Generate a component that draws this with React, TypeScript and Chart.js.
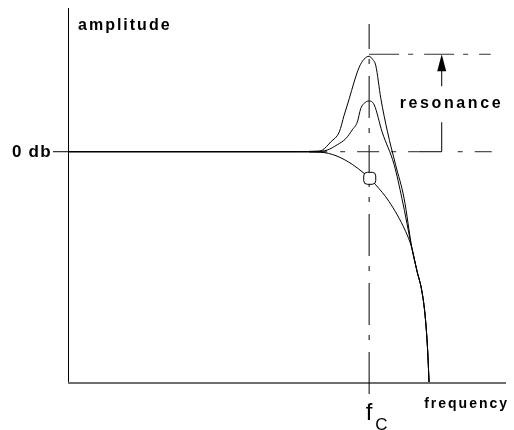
import React, { useEffect, useRef } from "react";
import { Chart, registerables } from "chart.js";

Chart.register(...registerables);

// Normalised frequency (cut-off frequency fc = 1) and amplitude in dB
const freqMin = 0;
const freqMax = 1.4545;
const dbMin = -23.15;
const dbMax = 14.45;
const fcFreq = 1.0;

// Highest resonance curve
const highQFreq = [0, 0.768, 0.828, 0.845, 0.873, 0.901, 0.917, 0.934, 0.95, 0.967, 0.983, 1.0, 1.011, 1.022, 1.039, 1.061, 1.088, 1.116, 1.142, 1.159, 1.175, 1.186, 1.194, 1.199];
const highQDb = [0, 0, 0.05, 0.17, 1.0, 2.0, 3.67, 5.33, 7.0, 8.5, 9.3, 9.6, 9.3, 8.67, 5.33, 2.0, -1.33, -4.67, -9.7, -12.0, -14.0, -16.5, -19.8, -23.15];

// Medium resonance curve
const midQFreq = [0, 0.768, 0.83, 0.861, 0.894, 0.923, 0.944, 0.961, 0.972, 0.989, 1.0, 1.017, 1.043, 1.083, 1.109, 1.142, 1.159, 1.175, 1.186, 1.194, 1.199];
const midQDb = [0, 0, 0.02, 0.17, 0.7, 1.33, 2.2, 3.0, 4.33, 5.0, 5.1, 4.7, 2.0, -1.3, -4.7, -9.7, -12.0, -14.0, -16.5, -19.8, -23.15];

// No resonance curve (-3 dB at fc)
const lowQFreq = [0, 0.768, 0.84, 0.89, 0.944, 0.983, 1.002, 1.022, 1.066, 1.121, 1.142, 1.159, 1.175, 1.186, 1.194, 1.199];
const lowQDb = [0, 0, -0.05, -0.4, -1.27, -2.17, -2.67, -3.33, -5.0, -8.0, -9.7, -12.0, -14.0, -16.5, -19.8, -23.15];

// Marker at the cut-off frequency
const markerFreq = [1.002];
const markerDb = [-2.67];

// Annotation levels
const resonanceTopDb = 9.8;
const zeroDb = 0;
const resonanceArrowFreq = 1.241;

const yAxisLabel = "amplitude";
const xAxisLabel = "frequency";
const zeroDbLabel = "0 db";
const resonanceLabel = "resonance";
const fcMain = "f";
const fcSub = "C";

const FONT = "'Liberation Sans', Arial, Helvetica, sans-serif";

const toPts = (xs: number[], ys: number[]) => xs.map((x, i) => ({ x, y: ys[i] }));

const overlayPlugin = {
  id: "overlay",
  beforeDatasetsDraw(chart: any) {
    const { ctx, chartArea: a, scales } = chart;
    const xs = scales.x;
    const ys = scales.y;
    const line = (x1: number, y1: number, x2: number, y2: number) => {
      ctx.beginPath();
      ctx.moveTo(x1, y1);
      ctx.lineTo(x2, y2);
      ctx.stroke();
    };
    ctx.save();
    ctx.lineWidth = 1;
    ctx.strokeStyle = "#000";
    // y axis
    line(a.left + 0.5, a.top, a.left + 0.5, a.bottom + 1);
    // x axis
    ctx.strokeStyle = "#6e6e6e";
    ctx.lineWidth = 2;
    line(a.left, a.bottom + 1, a.right, a.bottom + 1);
    // 0 dB tick
    ctx.strokeStyle = "#000";
    ctx.lineWidth = 1;
    const y0 = ys.getPixelForValue(zeroDb);
    line(a.left - 15, y0, a.left, y0);

    const xf = xs.getPixelForValue(fcFreq);
    const yTop = ys.getPixelForValue(resonanceTopDb);
    const xa = xs.getPixelForValue(resonanceArrowFreq);

    // overlapping start of the curves (slightly heavier)
    ctx.strokeStyle = "#555";
    ctx.lineWidth = 2;
    line(xf - 60, y0, xf - 42, y0);
    ctx.lineWidth = 1;
    ctx.strokeStyle = "#000";

    // fc vertical dash-dot line
    ctx.setLineDash([42, 10, 5, 12]);
    ctx.lineDashOffset = 17;
    line(xf, a.top + 16, xf, a.bottom + 16);

    // top resonance level line
    ctx.strokeStyle = "#333";
    ctx.setLineDash([30, 9, 5, 11]);
    ctx.lineDashOffset = 0;
    line(xf, yTop, xa + 49, yTop);

    // 0 dB reference line (right part)
    ctx.strokeStyle = "#222";
    ctx.setLineDash([5, 12, 22, 12]);
    ctx.lineDashOffset = 0;
    line(xf - 29, y0, xa - 23, y0);
    line(xa + 16, y0, xa + 50, y0);
    ctx.setLineDash([]);
    ctx.strokeStyle = "#000";
    // bracket of the arrow
    line(xa - 23, y0, xa, y0);
    ctx.restore();
  },
  afterDatasetsDraw(chart: any) {
    const { ctx, chartArea: a, scales } = chart;
    const xs = scales.x;
    const ys = scales.y;
    const y0 = ys.getPixelForValue(zeroDb);
    const yTop = ys.getPixelForValue(resonanceTopDb);
    const xa = xs.getPixelForValue(resonanceArrowFreq);
    const xf = xs.getPixelForValue(fcFreq);
    ctx.save();
    ctx.strokeStyle = "#000";
    ctx.fillStyle = "#000";
    ctx.lineWidth = 1;
    // arrow shaft
    ctx.beginPath();
    ctx.moveTo(xa, yTop + 14);
    ctx.lineTo(xa, yTop + 32);
    ctx.moveTo(xa, yTop + 68);
    ctx.lineTo(xa, y0);
    ctx.stroke();
    // arrow head
    ctx.beginPath();
    ctx.moveTo(xa, yTop);
    ctx.lineTo(xa - 4.5, yTop + 17);
    ctx.lineTo(xa + 4.5, yTop + 17);
    ctx.closePath();
    ctx.fill();

    const text = (t: string, x: number, y: number, font: string, spacing: number) => {
      ctx.font = font;
      (ctx as any).letterSpacing = spacing + "px";
      ctx.textAlign = "left";
      ctx.textBaseline = "alphabetic";
      ctx.fillText(t, x, y);
    };
    text(yAxisLabel, a.left + 10, a.top + 22, `bold 16px ${FONT}`, 2);
    text(zeroDbLabel, 12, y0 + 5.5, `bold 17px ${FONT}`, 1.2);
    text(resonanceLabel, xa - 42, yTop + 54, `bold 16px ${FONT}`, 2.6);
    text(xAxisLabel, xf + 55, a.bottom + 26, `bold 14px ${FONT}`, 2);
    text(fcMain, xf - 3.5, a.bottom + 38, `24px ${FONT}`, 0);
    text(fcSub, xf + 6, a.bottom + 48, `17px ${FONT}`, 0);
    ctx.restore();
  },
};

export default function App() {
  const ref = useRef<HTMLCanvasElement | null>(null);
  useEffect(() => {
    if (!ref.current) return;
    const lineStyle = {
      borderColor: "#000",
      borderWidth: 1,
      pointRadius: 0,
      fill: false,
      cubicInterpolationMode: "monotone" as const,
      order: 1,
    };
    const chart = new Chart(ref.current, {
      type: "line",
      data: {
        datasets: [
          {
            label: "fc marker",
            data: toPts(markerFreq, markerDb),
            showLine: false,
            pointStyle: "rectRounded",
            pointRadius: 7,
            backgroundColor: "#fff",
            borderColor: "#000",
            borderWidth: 1,
            order: 0,
          },
          { label: "high resonance", data: toPts(highQFreq, highQDb), ...lineStyle },
          { label: "medium resonance", data: toPts(midQFreq, midQDb), ...lineStyle },
          { label: "no resonance", data: toPts(lowQFreq, lowQDb), ...lineStyle },
        ],
      },
      options: {
        animation: false,
        responsive: false,
        devicePixelRatio: 1,
        layout: { padding: { left: 68, right: 6, top: 6, bottom: 48 } },
        plugins: { legend: { display: false }, tooltip: { enabled: false } },
        events: [],
        scales: {
          x: { type: "linear", min: freqMin, max: freqMax, display: false },
          y: { type: "linear", min: dbMin, max: dbMax, display: false },
        },
      },
      plugins: [overlayPlugin],
    });
    return () => chart.destroy();
  }, []);
  return (
    <div style={{ position: "fixed", left: 0, top: 0, width: 514, height: 430, background: "#fff" }}>
      <canvas ref={ref} width={514} height={430} style={{ display: "block" }} />
    </div>
  );
}
